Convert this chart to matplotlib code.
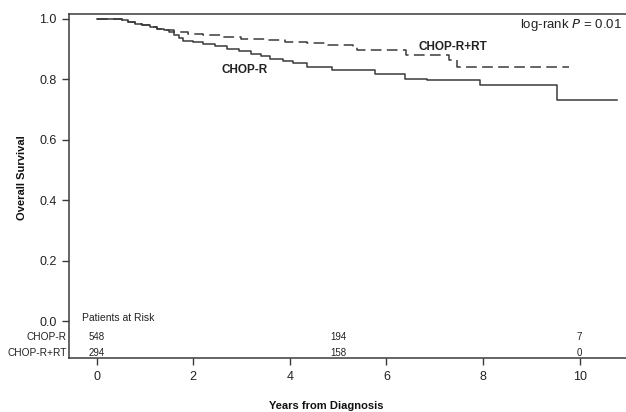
import matplotlib
matplotlib.use("Agg")
import matplotlib.pyplot as plt

plt.rcParams['font.family'] = ['Liberation Sans', 'DejaVu Sans']

# Kaplan-Meier step estimates
t_chopr = [0, 0.52, 0.65, 0.8, 0.95, 1.1, 1.25, 1.4, 1.5, 1.6, 1.7, 1.8, 2.0, 2.2, 2.45, 2.7,
           2.95, 3.2, 3.4, 3.6, 3.85, 4.07, 4.35, 4.87, 5.77, 6.39, 6.84, 7.94, 9.53, 10.77]
s_chopr = [1.0, 0.995, 0.990, 0.984, 0.978, 0.972, 0.967, 0.962, 0.955, 0.945, 0.935, 0.927,
           0.922, 0.916, 0.909, 0.900, 0.892, 0.884, 0.876, 0.868, 0.860, 0.852, 0.841, 0.830,
           0.816, 0.802, 0.797, 0.780, 0.731, 0.731]

t_rt = [0, 0.52, 0.65, 0.8, 0.95, 1.1, 1.25, 1.4, 1.6, 1.9, 2.2, 2.6, 3.0, 3.5, 3.9, 4.35,
        4.8, 5.3, 5.4, 6.4, 7.3, 7.46, 9.77]
s_rt = [1.0, 0.995, 0.990, 0.984, 0.978, 0.972, 0.967, 0.962, 0.957, 0.950, 0.945, 0.940,
        0.934, 0.928, 0.923, 0.918, 0.912, 0.905, 0.896, 0.879, 0.863, 0.841, 0.841]

risk_times = [0, 5, 10]
risk_chopr = [548, 194, 7]
risk_rt = [294, 158, 0]

line_c = '#3a3a3a'
txt_c = '#222222'
fig = plt.figure(figsize=(6.26, 4.12), dpi=100)
ax = fig.add_axes([69/626, 54/412, 1 - 69/626, 344/412])

ax.step(t_chopr, s_chopr, where='post', color=line_c, lw=1.1)
ax.step(t_rt, s_rt, where='post', color=line_c, lw=1.1, dashes=(7, 3.5))

ax.set_xlim(-0.57, 10.96)
ax.set_ylim(-0.122, 1.0155)
ax.set_xticks([0, 2, 4, 6, 8, 10])
ax.set_yticks([0.0, 0.2, 0.4, 0.6, 0.8, 1.0])
ax.set_yticklabels(['0.0', '0.2', '0.4', '0.6', '0.8', '1.0'])
ax.tick_params(direction='out', length=5, width=1, color=line_c, labelsize=9,
               labelcolor=txt_c, pad=4)
ax.spines['right'].set_visible(False)
for sp in ['left', 'bottom', 'top']:
    ax.spines[sp].set_color(line_c)
    ax.spines[sp].set_linewidth(1.1)

ax.text(3.06, 0.83, 'CHOP-R', fontsize=8.5, fontweight='bold', ha='center', va='center',
        color=txt_c)
ax.text(7.38, 0.907, 'CHOP-R+RT', fontsize=8.5, fontweight='bold', ha='center', va='center',
        color=txt_c)
ax.text(10.87, 0.979, 'log-rank $\\it{P}$ = 0.01', fontsize=9.5, ha='right', va='center',
        color=txt_c)

# patients at risk table
ax.text(-0.3, 0.01, 'Patients at Risk', fontsize=7.5, ha='left', va='center', color=txt_c)
y_r1, y_r2 = -0.053, -0.105
for t, a, b in zip(risk_times, risk_chopr, risk_rt):
    ax.text(t, y_r1, str(a), fontsize=7, ha='center', va='center', color=txt_c)
    ax.text(t, y_r2, str(b), fontsize=7, ha='center', va='center', color=txt_c)
ax.text(-0.62, y_r1, 'CHOP-R', fontsize=7.3, ha='right', va='center', color=txt_c)
ax.text(-0.62, y_r2, 'CHOP-R+RT', fontsize=7.3, ha='right', va='center', color=txt_c)

fig.text(326/626, 1 - 406/412, 'Years from Diagnosis', fontsize=8, fontweight='bold',
         ha='center', va='center', color='#111111')
fig.text(22/626, 1 - 178/412, 'Overall Survival', fontsize=8, fontweight='bold',
         ha='center', va='center', rotation=90, color='#111111')

fig.savefig('out.png', dpi=100)
